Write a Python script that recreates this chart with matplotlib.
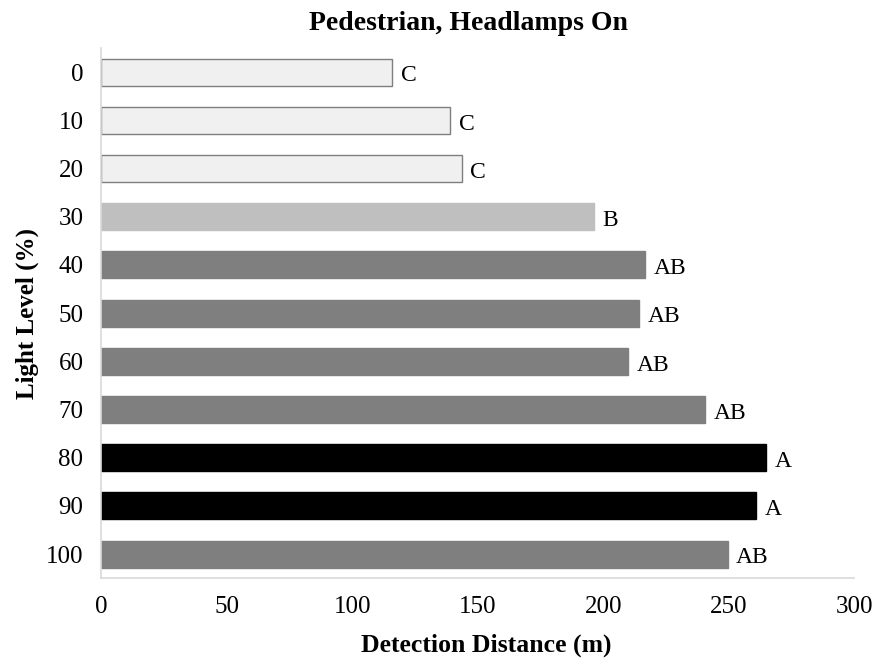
import matplotlib.pyplot as plt

# data
levels = ['0', '10', '20', '30', '40', '50', '60', '70', '80', '90', '100']
distance = [116, 139, 143.6, 196.2, 216.7, 214.3, 210, 240.7, 265, 260.9, 249.7]
groups = ['C', 'C', 'C', 'B', 'AB', 'AB', 'AB', 'AB', 'A', 'A', 'AB']

group_colors = {'C': '#f0f0f0', 'B': '#bfbfbf', 'AB': '#7f7f7f', 'A': '#000000'}

plt.rcParams['font.family'] = ['Liberation Serif', 'DejaVu Serif']

fig = plt.figure(figsize=(8.78, 6.63), dpi=100)
ax = fig.add_axes([0.1156, 0.128, 0.8571, 0.7996])

ypos = list(range(len(levels)))
colors = [group_colors[g] for g in groups]
edges = ['#7f7f7f' if g == 'C' else c for g, c in zip(groups, colors)]
ax.barh(ypos, distance, height=0.56, color=colors, edgecolor=edges, linewidth=1.0)

for y, d, g in zip(ypos, distance, groups):
    ax.annotate(g, (d, y), xytext=(6, -1), textcoords='offset points',
                va='center_baseline', ha='left', fontsize=17)

ax.set_xlim(0, 300)
ax.set_ylim(len(levels) - 0.5, -0.5)
ax.set_yticks(ypos)
ax.set_yticklabels(levels)
ax.set_xticks([0, 50, 100, 150, 200, 250, 300])
ax.tick_params(length=0, labelsize=18)
ax.tick_params(axis='y', pad=13)
ax.tick_params(axis='x', pad=13)

for s in ['top', 'right']:
    ax.spines[s].set_visible(False)
for s in ['left', 'bottom']:
    ax.spines[s].set_color('#d9d9d9')
    ax.spines[s].set_linewidth(1.2)

ax.set_title('Pedestrian, Headlamps On', fontsize=20, fontweight='bold', pad=13, x=0.487)
ax.set_xlabel('Detection Distance (m)', fontsize=18.5, fontweight='bold')
ax.xaxis.set_label_coords(0.511, -0.105)
ax.set_ylabel('Light Level (%)', fontsize=18, fontweight='bold', labelpad=5)

fig.savefig('out.png', dpi=100)
